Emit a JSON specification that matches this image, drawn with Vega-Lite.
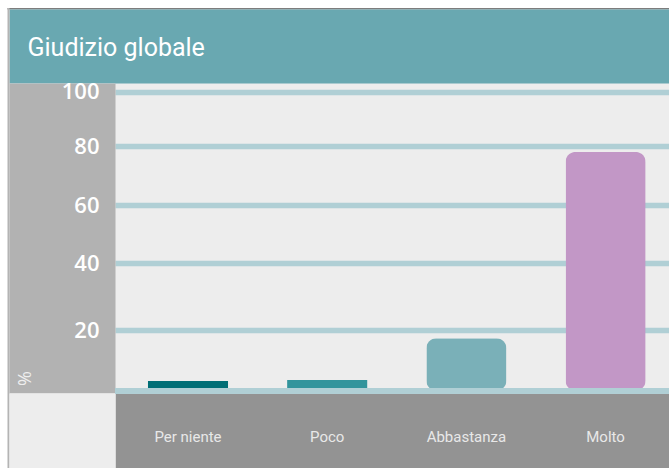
{
  "$schema": "https://vega.github.io/schema/vega-lite/v6.json",
  "autosize": {"type": "none"},
  "padding": {"left": 115, "top": 83, "right": 0, "bottom": 75},
  "width": 554,
  "height": 310,
  "background": "#ffffff",
  "config": {"view": {"fill": "#ededed", "stroke": null}},
  "data": {"values": [
    {"cat": "Per niente", "value": 3.2},
    {"cat": "Poco", "value": 3.5},
    {"cat": "Abbastanza", "value": 17.3},
    {"cat": "Molto", "value": 78}
  ]},
  "resolve": {"axis": {"x": "independent", "y": "independent"}},
  "layer": [
    {
      "mark": {"type": "text", "text": ""},
      "encoding": {
        "x": {
          "field": "cat", "type": "nominal", "sort": null,
          "scale": {"domain": ["Per niente", "Poco", "Abbastanza", "Molto"], "paddingInner": 0.425, "paddingOuter": 0.2025, "align": 0.585},
          "axis": {
            "orient": "top", "offset": 74, "values": ["Poco"], "domain": false, "labels": false, "grid": false,
            "ticks": true, "tickSize": 1.5, "tickWidth": 662, "tickColor": "#7d7d7d", "tickOffset": 10.81, "tickRound": false,
            "title": null
          }
        },
        "y": {
          "field": "value", "type": "quantitative",
          "scale": {"domain": [0, 20, 40, 60, 80, 100], "range": [307.75, 247, 180, 122, 63, 8.7], "nice": false, "zero": false},
          "axis": {
            "orient": "left", "offset": 106, "values": [40], "domain": false, "labels": false, "grid": false,
            "ticks": true, "tickSize": 2, "tickWidth": 460.5, "tickColor": "#b4b4b4", "tickOffset": -25.25, "tickRound": false,
            "title": null
          }
        }
      }
    },
    {
      "mark": {"type": "text", "text": ""},
      "encoding": {
        "x": {
          "field": "cat", "type": "nominal", "sort": null,
          "axis": {
            "orient": "bottom", "offset": 0, "values": ["Poco"], "domain": false, "labels": false, "grid": false,
            "ticks": true, "tickSize": 75, "tickWidth": 554, "tickColor": "#939393", "tickOffset": 64.81, "tickRound": false,
            "title": null
          }
        },
        "y": {
          "field": "value", "type": "quantitative",
          "axis": {
            "orient": "left", "offset": 0, "values": [40], "domain": false, "labels": false, "grid": false,
            "ticks": true, "tickSize": 106, "tickWidth": 310, "tickColor": "#b2b2b2", "tickOffset": -25, "tickRound": false,
            "title": null
          }
        }
      }
    },
    {
      "mark": {"type": "text", "text": ""},
      "encoding": {
        "x": {
          "field": "cat", "type": "nominal", "sort": null,
          "axis": {
            "orient": "top", "offset": 0, "values": ["Poco"], "domain": false, "labels": false, "grid": false,
            "ticks": true, "tickSize": 74, "tickWidth": 660, "tickColor": "#69a8b1", "tickOffset": 11.8, "tickRound": false,
            "title": "Giudizio globale", "titleX": -88, "titleY": -28, "titleAlign": "left", "titleBaseline": "alphabetic", "titleAngle": 0,
            "titleFont": "Roboto", "titleFontSize": 25, "titleFontWeight": "normal", "titleColor": "#ffffff"
          }
        },
        "y": {
          "field": "value", "type": "quantitative",
          "axis": {
            "orient": "left", "offset": 0, "values": [0], "domain": false, "labels": false, "grid": false,
            "ticks": true, "tickSize": 106, "tickWidth": 75, "tickColor": "#ededed", "tickOffset": 39.75, "tickRound": false,
            "title": null
          }
        }
      }
    },
    {
      "transform": [{"filter": "datum.value > 10"}],
      "mark": {"type": "bar", "cornerRadius": 10},
      "encoding": {
        "x": {
          "field": "cat", "type": "nominal", "sort": null,
          "axis": {
            "orient": "bottom", "offset": 0, "domain": false,
            "ticks": false, "tickSize": 0, "grid": false, "title": null,
            "labelFont": "Roboto", "labelFontSize": 15, "labelColor": "#e8e8e8",
            "labelPadding": 48, "labelBaseline": "alphabetic", "labelAngle": 0
          }
        },
        "y": {
          "field": "value", "type": "quantitative",
          "axis": {
            "orient": "left", "values": [20, 40, 60, 80, 100], "offset": 0,
            "domain": false, "ticks": false, "tickSize": 0,
            "grid": true, "gridColor": "#b0cfd5", "gridWidth": 5.5, "gridOpacity": 1,
            "labelFont": "Open Sans", "labelFontWeight": 600, "labelFontSize": 22, "labelColor": "#ffffff",
            "labelPadding": 16, "labelAlign": "right", "labelBaseline": "middle",
            "title": "%", "titleX": -90, "titleY": 295, "titleAngle": -90, "titleAlign": "center", "titleBaseline": "middle",
            "titleFont": "Open Sans", "titleFontSize": 18, "titleFontWeight": "normal", "titleColor": "#eeeeee"
          }
        },
        "color": {
          "field": "cat", "type": "nominal",
          "scale": {"domain": ["Per niente", "Poco", "Abbastanza", "Molto"], "range": ["#006e76", "#32949c", "#7ab0b8", "#c297c6"]},
          "legend": null
        }
      }
    },
    {
      "transform": [{"filter": "datum.value <= 10"}],
      "mark": {"type": "bar"},
      "encoding": {
        "x": {"field": "cat", "type": "nominal", "sort": null, "axis": null},
        "y": {"field": "value", "type": "quantitative", "axis": null},
        "color": {"field": "cat", "type": "nominal", "legend": null}
      }
    },
    {
      "mark": {"type": "rule", "color": "#b0cfd5", "strokeWidth": 5.5},
      "encoding": {
        "y": {"datum": 0, "type": "quantitative", "axis": null}
      }
    }
  ]
}
